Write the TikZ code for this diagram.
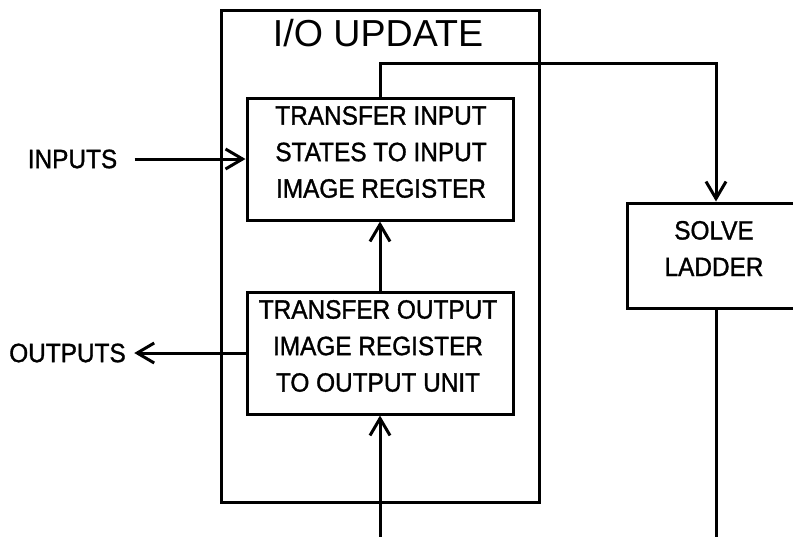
\documentclass[tikz,border=0pt]{standalone}
\usepackage{fontspec}
\setmainfont{Liberation Sans}
\newfontfamily\boxfont{Liberation Sans}[FakeStretch=0.92,FakeBold=1.2]
\usetikzlibrary{arrows.meta}
\begin{document}
\begin{tikzpicture}[x=1pt,y=-1pt,line width=3pt,
  boxst/.style={draw,line width=3pt,inner sep=0pt},
  lbl/.style={font=\boxfont\fontsize{26.5}{36.5}\selectfont,align=center,inner sep=0pt},
  ttl/.style={font=\fontsize{37.6}{40}\selectfont,inner sep=0pt},
  arr/.style={-{Straight Barb[length=17pt,width=20pt]}}]
\useasboundingbox (0,0) rectangle (793,536);
\clip (0,0) rectangle (793,536);
% boxes
\node[boxst,minimum width=318pt,minimum height=492pt] (outer) at (380,256) {};
\node[ttl] (title) at (378,33) {I/O UPDATE};
\node[boxst,minimum width=266pt,minimum height=122pt] (top) at (380,159) {};
\node[lbl] (toptxt) at (381,152) {TRANSFER INPUT\\STATES TO INPUT\\IMAGE REGISTER};
\node[boxst,minimum width=266pt,minimum height=122pt] (bot) at (380,353) {};
\node[lbl] (bottxt) at (378,346) {TRANSFER OUTPUT\\IMAGE REGISTER\\TO OUTPUT UNIT};
\node[boxst,minimum width=178pt,minimum height=105pt] (solve) at (716,255.5) {};
\node[lbl] (solvetxt) at (714,248.5) {SOLVE\\LADDER};
% labels
\node[lbl] (inp) at (72.5,159) {INPUTS};
\node[lbl] (outp) at (67.5,353) {OUTPUTS};
% coordinates
\coordinate (c1) at (380,63);
\coordinate (c2) at (716,63);
\coordinate (b1) at (380,545);
\coordinate (b2) at (716,545);
% connectors
\draw[arr] ([xshift=16pt]inp.east) -- (top.west);
\draw[arr] (bot.west) -- ([xshift=7pt]outp.east);
\draw[arr] (bot.north) -- (top.south);
\draw[arr] (b1) -- (bot.south);
\draw[arr] (top.north) -- (c1) -- (c2) -- (solve.north);
\draw (solve.south) -- (b2);
\end{tikzpicture}
\end{document}
